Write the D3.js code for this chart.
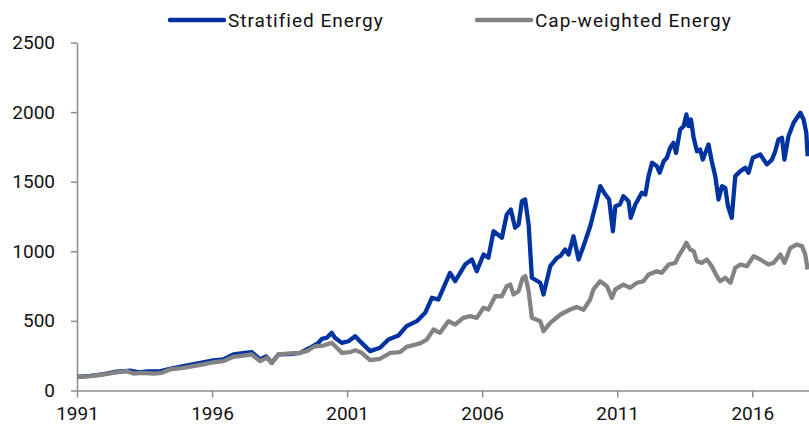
<!DOCTYPE html>
<html>
<head>
<meta charset="utf-8">
<script src="https://cdn.jsdelivr.net/npm/d3@7"></script>
<style>
  body { margin: 0; background: #fff; }
  text { font-family: Roboto, "Liberation Sans", sans-serif; fill: #111; }
</style>
</head>
<body>
<div id="chart"></div>
<script>
const width = 809;
const height = 427;

// series names
const seriesNames = ["Stratified Energy", "Cap-weighted Energy"];

// Stratified Energy (decimal years)
const stratYears = [1991.0, 1991.5, 1992.0, 1992.47, 1993.0, 1993.3, 1993.6, 1994.07, 1994.44, 1994.94,
  1995.43, 1996.05, 1996.42, 1996.79, 1997.22, 1997.47, 1997.78, 1998.0, 1998.21, 1998.46,
  1998.89, 1999.26, 1999.63, 1999.94, 2000.06, 2000.25, 2000.43, 2000.55, 2000.8, 2001.05,
  2001.3, 2001.54, 2001.85, 2002.22, 2002.53, 2002.9, 2003.2, 2003.58, 2003.89, 2004.14,
  2004.38, 2004.81, 2005.0, 2005.37, 2005.62, 2005.8, 2006.05, 2006.23, 2006.42, 2006.73,
  2006.91, 2007.06, 2007.22, 2007.35, 2007.47, 2007.59, 2007.72, 2007.84, 2008.15, 2008.27,
  2008.52, 2008.77, 2008.89, 2009.07, 2009.2, 2009.38, 2009.57, 2009.75, 2010.0, 2010.19,
  2010.37, 2010.56, 2010.7, 2010.84, 2010.93, 2011.1, 2011.23, 2011.42, 2011.5, 2011.67,
  2011.91, 2012.04, 2012.16, 2012.29, 2012.47, 2012.57, 2012.72, 2012.84, 2012.96, 2013.08,
  2013.18, 2013.33, 2013.46, 2013.56, 2013.64, 2013.73, 2013.83, 2013.95, 2014.07, 2014.17,
  2014.26, 2014.38, 2014.5, 2014.63, 2014.75, 2014.88, 2015.0, 2015.1, 2015.24, 2015.37,
  2015.56, 2015.74, 2015.86, 2016.02, 2016.3, 2016.54, 2016.73, 2016.85, 2016.97, 2017.1,
  2017.19, 2017.34, 2017.53, 2017.78, 2017.9, 2018.0, 2018.05];
const stratValues = [98, 105, 118, 135, 142, 130, 138, 138, 156, 175,
  194, 216, 223, 259, 271, 275, 223, 245, 199, 259,
  262, 270, 307, 342, 371, 379, 414, 379, 342, 354,
  390, 342, 283, 307, 366, 395, 462, 498, 558, 666,
  654, 845, 785, 905, 941, 857, 977, 953, 1144, 1097,
  1264, 1300, 1169, 1193, 1360, 1372, 1193, 810, 774, 690,
  893, 953, 965, 1013, 977, 1108, 941, 1037, 1180, 1324,
  1468, 1408, 1372, 1144, 1324, 1336, 1396, 1360, 1241, 1336,
  1420, 1408, 1540, 1636, 1611, 1564, 1647, 1672, 1744, 1779,
  1707, 1875, 1899, 1983, 1899, 1947, 1815, 1719, 1731, 1659,
  1707, 1767, 1647, 1540, 1372, 1468, 1456, 1324, 1241, 1540,
  1576, 1600, 1564, 1672, 1695, 1624, 1659, 1719, 1803, 1815,
  1659, 1827, 1923, 1995, 1947, 1851, 1683];

// Cap-weighted Energy
const capYears = [1991.0, 1991.48, 1991.97, 1992.47, 1992.84, 1993.09, 1993.46, 1993.83, 1994.14, 1994.44,
  1994.94, 1995.3, 1995.68, 1996.05, 1996.42, 1996.79, 1997.16, 1997.47, 1997.78, 1998.02,
  1998.21, 1998.46, 1998.89, 1999.26, 1999.51, 1999.81, 2000.12, 2000.43, 2000.62, 2000.8,
  2001.11, 2001.3, 2001.54, 2001.85, 2002.22, 2002.6, 2002.96, 2003.2, 2003.7, 2003.95,
  2004.2, 2004.44, 2004.75, 2005.0, 2005.3, 2005.56, 2005.8, 2006.05, 2006.23, 2006.48,
  2006.73, 2006.91, 2007.04, 2007.16, 2007.35, 2007.5, 2007.6, 2007.72, 2007.84, 2008.15,
  2008.27, 2008.52, 2008.9, 2009.26, 2009.5, 2009.75, 2010.0, 2010.12, 2010.37, 2010.62,
  2010.8, 2010.93, 2011.23, 2011.48, 2011.73, 2011.97, 2012.16, 2012.47, 2012.65, 2012.9,
  2013.15, 2013.27, 2013.46, 2013.56, 2013.7, 2013.83, 2013.95, 2014.13, 2014.32, 2014.5,
  2014.69, 2014.81, 2015.0, 2015.19, 2015.37, 2015.56, 2015.8, 2016.05, 2016.3, 2016.6,
  2016.79, 2017.04, 2017.19, 2017.41, 2017.65, 2017.84, 2017.96, 2018.05];
const capValues = [98, 103, 115, 131, 139, 122, 127, 122, 127, 151,
  163, 175, 187, 203, 211, 242, 251, 259, 211, 235,
  199, 259, 266, 271, 283, 318, 323, 342, 307, 271,
  275, 290, 271, 218, 228, 271, 275, 314, 338, 366,
  438, 414, 498, 474, 522, 534, 522, 594, 582, 677,
  677, 749, 761, 690, 713, 810, 821, 713, 522, 498,
  426, 486, 546, 582, 600, 580, 654, 726, 785, 749,
  666, 726, 761, 738, 774, 785, 833, 857, 845, 905,
  917, 965, 1025, 1061, 1013, 1001, 929, 917, 941, 893,
  821, 785, 810, 774, 881, 905, 893, 965, 941, 905,
  917, 977, 917, 1025, 1049, 1037, 977, 869];

// axis ticks
const yTicks = [0, 500, 1000, 1500, 2000, 2500];
const xTicks = [1991, 1996, 2001, 2006, 2011, 2016];

const blue = "#0033a0";
const grey = "#838383";
const axisColor = "#8c8c8c";

var svg = d3.select("#chart").append("svg")
  .attr("width", width)
  .attr("height", height);

const x = d3.scaleLinear().domain([1991, 2018.1]).range([77, 809]);
const y = d3.scaleLinear().domain([0, 2500]).range([390.5, 42.5]);

// axes
const yAxis = svg.append("g")
  .attr("transform", "translate(77,0)")
  .call(d3.axisLeft(y).tickValues(yTicks).tickFormat(d3.format("d")).tickSize(6).tickSizeOuter(0).tickPadding(16));

const xAxis = svg.append("g")
  .attr("transform", "translate(0,390.5)")
  .call(d3.axisBottom(x).tickValues(xTicks).tickFormat(d3.format("d")).tickSize(7).tickSizeOuter(0).tickPadding(9));

[yAxis, xAxis].forEach(function (g) {
  g.selectAll("path, line").attr("stroke", axisColor).attr("stroke-width", 1.5);
  g.selectAll("text")
    .style("font-family", "Roboto, 'Liberation Sans', sans-serif")
    .style("font-size", "19px")
    .attr("fill", "#111");
});

// lines
const line = d3.line()
  .x(d => x(d[0]))
  .y(d => y(d[1]));

const stratData = d3.zip(stratYears, stratValues);
const capData = d3.zip(capYears, capValues);

svg.append("path")
  .datum(stratData)
  .attr("d", line)
  .attr("fill", "none")
  .attr("stroke", blue)
  .attr("stroke-width", 4.3)
  .attr("stroke-linejoin", "round");

svg.append("path")
  .datum(capData)
  .attr("d", line)
  .attr("fill", "none")
  .attr("stroke", grey)
  .attr("stroke-width", 4.3)
  .attr("stroke-linejoin", "round");

// legend
const legendItems = [
  { name: seriesNames[0], color: blue, x1: 170, x2: 224, tx: 228 },
  { name: seriesNames[1], color: grey, x1: 477, x2: 531, tx: 535 }
];

legendItems.forEach(function (d) {
  svg.append("line")
    .attr("x1", d.x1)
    .attr("x2", d.x2)
    .attr("y1", 20)
    .attr("y2", 20)
    .attr("stroke", d.color)
    .attr("stroke-width", 4.5)
    .attr("stroke-linecap", "round");
  svg.append("text")
    .attr("x", d.tx)
    .attr("y", 27)
    .text(d.name)
    .style("font-size", "19px")
    .style("letter-spacing", "1px");
});
</script>
</body>
</html>
